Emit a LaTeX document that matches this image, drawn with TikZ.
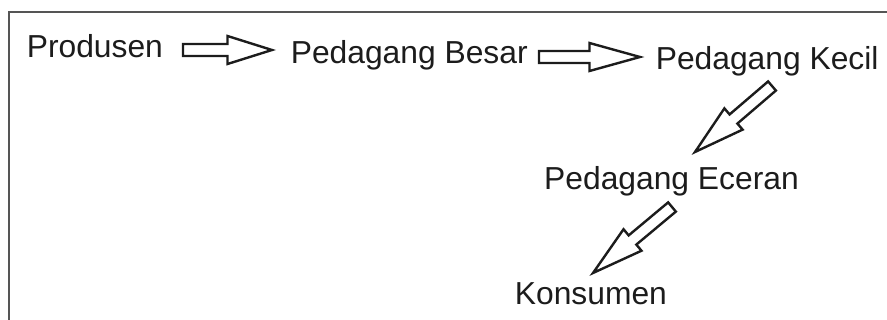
\documentclass[tikz,border=0pt]{standalone}
\usepackage{fontspec}
\setmainfont{Liberation Sans}
\usetikzlibrary{calc}

\definecolor{framegray}{HTML}{555555}
\definecolor{ink}{HTML}{1C1C1C}

% hollow block arrow from #1 (tail) to #2 (tip)
\newcommand\shafthw{6pt}
\newcommand\headhw{14pt}
\newcommand\blockarrow[2]{%
  \coordinate (#1-#2-mid) at ($(#1)!0.5!(#2)$);
  \draw[blockarrow]
    ($(#1)!\shafthw!90:(#2)$) --
    ($(#1-#2-mid)!\shafthw!90:(#2)$) --
    ($(#1-#2-mid)!\headhw!90:(#2)$) --
    (#2) --
    ($(#1-#2-mid)!\headhw!-90:(#2)$) --
    ($(#1-#2-mid)!\shafthw!-90:(#2)$) --
    ($(#1)!\shafthw!-90:(#2)$) -- cycle;}

\tikzset{
  label/.style={anchor=base west, inner sep=0pt, text=ink,
    font=\fontsize{31.8}{36}\selectfont},
  blockarrow/.style={draw=ink, line width=2.4pt, line join=miter, fill=white},
  frame/.style={draw=framegray, line width=2pt},
}

\begin{document}
\begin{tikzpicture}[x=1pt,y=-1pt]
  \useasboundingbox (0,0) rectangle (887,320);

  % open frame: top and left edges
  \draw[frame] (9,321) -- (9,12) -- (888,12);

  % stages of the distribution chain
  \node[label] (produsen) at (26.6,58)  {Produsen};
  \node[label] (besar)    at (290.6,64) {Pedagang Besar};
  \node[label] (kecil)    at (655.6,70) {Pedagang Kecil};
  \node[label] (eceran)   at (544,190)  {Pedagang Eceran};
  \node[label] (konsumen) at (514.7,305){Konsumen};

  % arrow end points
  \coordinate (a1) at (183,50);  \coordinate (b1) at (272,50);
  \coordinate (a2) at (539,57);  \coordinate (b2) at (640,57);
  \coordinate (a3) at (772,86);  \coordinate (b3) at (695,152);
  \coordinate (a4) at (672,207); \coordinate (b4) at (593,273);

  \blockarrow{a1}{b1}
  \blockarrow{a2}{b2}
  \blockarrow{a3}{b3}
  \blockarrow{a4}{b4}
\end{tikzpicture}
\end{document}
